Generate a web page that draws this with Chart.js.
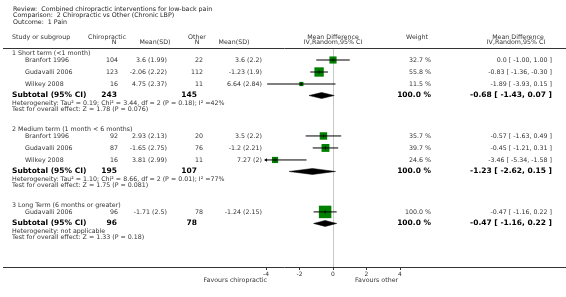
<!DOCTYPE html>
<html>
<head>
<meta charset="utf-8">
<script src="https://cdn.jsdelivr.net/npm/chart.js@4.4.1/dist/chart.umd.min.js"></script>
<style>html,body{margin:0;padding:0;background:#fff}canvas{display:block}</style>
</head>
<body>
<canvas id="c" width="566" height="297"></canvas>
<script>
// ── Data ──────────────────────────────────────────────────────────────────────
const titleLines = ['Review:  Combined chiropractic interventions for low-back pain','Comparison:  2 Chiropractic vs Other (Chronic LBP)','Outcome:  1 Pain'];
const groups     = ['1 Short term (<1 month)','2 Medium term (1 month < 6 months)','3 Long Term (6 months or greater)'];
const studyGroup = [0,0,0,1,1,1,2];
const studyNames = ['Branfort 1996','Gudavalli 2006','Wilkey 2008','Branfort 1996','Gudavalli 2006','Wilkey 2008','Gudavalli 2006'];
const chiroN     = [104,123,16,92,87,16,96];
const chiroMean  = [3.6,-2.06,4.75,2.93,-1.65,3.81,-1.71];
const chiroSD    = [1.99,2.22,2.37,2.13,2.75,2.99,2.5];
const otherN     = [22,112,11,20,76,11,78];
const otherMean  = [3.6,-1.23,6.64,3.5,-1.2,7.27,-1.24];
const otherSD    = [2.2,1.9,2.84,2.2,2.21,2,2.15];
const weights    = [32.7,55.8,11.5,35.7,39.7,24.6,100.0];
const md         = [0.0,-0.83,-1.89,-0.57,-0.45,-3.46,-0.47];
const mdLo       = [-1.00,-1.36,-3.93,-1.63,-1.21,-5.34,-1.16];
const mdHi       = [1.00,-0.30,0.15,0.49,0.31,-1.58,0.22];
const subChiroN  = [243,195,96];
const subOtherN  = [145,107,78];
const subMD      = [-0.68,-1.23,-0.47];
const subLo      = [-1.43,-2.62,-1.16];
const subHi      = [0.07,0.15,0.22];
const hetText    = ['Heterogeneity: Tau\u00b2 = 0.19; Chi\u00b2 = 3.44, df = 2 (P = 0.18); I\u00b2 =42%','Heterogeneity: Tau\u00b2 = 1.10; Chi\u00b2 = 8.66, df = 2 (P = 0.01); I\u00b2 =77%','Heterogeneity: not applicable'];
const testText   = ['Test for overall effect: Z = 1.78 (P = 0.076)','Test for overall effect: Z = 1.75 (P = 0.081)','Test for overall effect: Z = 1.33 (P = 0.18)'];
const xMin = -4, xMax = 4, xStep = 2;

// ── Row layout (in row units, one study row = 1) ─────────────────────────────
const FONT='"DejaVu Sans", Verdana, sans-serif';
const rows={head:[],study:[],sub:[],het:[],test:[]};
let cur=0.45;
groups.forEach((g,gi)=>{
  rows.head[gi]=cur; cur+=0.55;
  let last=cur;
  studyGroup.forEach((sg,i)=>{ if(sg===gi){ rows.study[i]=cur; last=cur; cur+=1; } });
  rows.sub[gi]=last+0.96; rows.het[gi]=rows.sub[gi]+0.68; rows.test[gi]=rows.het[gi]+0.48;
  cur=rows.test[gi]+1.66;
});
const fmt=v=>Number.isInteger(v)?v.toFixed(1):String(v);
const ci=(m,l,h,f)=>(f?f(m):m.toFixed(2))+' [ '+l.toFixed(2)+', '+h.toFixed(2)+' ]';

// ── Datasets ─────────────────────────────────────────────────────────────────
const GREEN='#008000';
const datasets=[];
studyNames.forEach((n,i)=>{
  datasets.push({data:[{x:mdLo[i],y:rows.study[i]},{x:mdHi[i],y:rows.study[i]}],showLine:true,borderColor:'#000',borderWidth:1,pointRadius:0,order:1});
});
datasets.push({data:md.map((v,i)=>({x:v,y:rows.study[i]})),pointStyle:'line',rotation:90,pointRadius:1.6,borderColor:'#000',borderWidth:0.8,order:0});
datasets.push({data:md.map((v,i)=>({x:v,y:rows.study[i]})),pointStyle:'rect',
  pointRadius:weights.map(w=>1.25*Math.sqrt(w)/Math.SQRT2),backgroundColor:GREEN,borderColor:GREEN,borderWidth:0,order:2});
const arrows=mdLo.map((l,i)=>l<xMin?{x:xMin,y:rows.study[i]}:null).filter(Boolean);
datasets.push({data:arrows,pointStyle:'triangle',rotation:270,pointRadius:2,backgroundColor:'#000',borderColor:'#000',borderWidth:0,clip:false,order:0});
subMD.forEach((m,gi)=>{
  const yy=rows.sub[gi], h=0.25;
  datasets.push({data:[{x:subLo[gi],y:yy},{x:m,y:yy-h},{x:subHi[gi],y:yy},{x:m,y:yy+h},{x:subLo[gi],y:yy}],
    showLine:true,fill:'shape',backgroundColor:'#000',borderColor:'#000',borderWidth:0.5,pointRadius:0,tension:0,order:1});
});

// ── Table text plugin ────────────────────────────────────────────────────────
const tablePlugin={
  id:'forestTable',
  afterDraw(chart){
    const {ctx,chartArea:ca,scales:{y}}=chart;
    const T=(s,x,yy,al,font,col)=>{ctx.font=font||('6.3px '+FONT);ctx.fillStyle=col||'#333';ctx.textAlign=al||'left';ctx.textBaseline='middle';ctx.fillText(s,x,yy);};
    const B='bold 7.5px '+FONT;
    ctx.save();
    ctx.strokeStyle='#333'; ctx.lineWidth=1;
    ctx.beginPath();
    ctx.moveTo(3,Math.round(ca.top)+0.5); ctx.lineTo(566,Math.round(ca.top)+0.5);
    ctx.moveTo(3,Math.round(ca.bottom)+0.5); ctx.lineTo(566,Math.round(ca.bottom)+0.5);
    ctx.stroke();
    titleLines.forEach((s,i)=>T(s,13,9+i*6.5,'left',null,'#222'));
    T('Study or subgroup',12,37);
    T('Chiropractic',107,37,'center'); T('N',114,42,'center'); T('Mean(SD)',155,42,'center');
    T('Other',197,37,'center'); T('N',197,42,'center'); T('Mean(SD)',234,42,'center');
    T('Mean Difference',333,37,'center'); T('IV,Random,95% CI',333,42,'center');
    T('Weight',417,37,'center');
    T('Mean Difference',518,37,'center'); T('IV,Random,95% CI',516,42,'center');
    groups.forEach((g,gi)=>{
      T(g,12,y.getPixelForValue(rows.head[gi]));
      const ys=y.getPixelForValue(rows.sub[gi]);
      T('Subtotal (95% CI)',12,ys,'left',B,'#000');
      T(String(subChiroN[gi]),117,ys,'right',B,'#000');
      T(String(subOtherN[gi]),197,ys,'right',B,'#000');
      T('100.0 %',431,ys,'right',B,'#000');
      T(ci(subMD[gi],subLo[gi],subHi[gi]),552,ys,'right',B,'#000');
      T(hetText[gi],12,y.getPixelForValue(rows.het[gi]));
      T(testText[gi],12,y.getPixelForValue(rows.test[gi]));
    });
    studyNames.forEach((n,i)=>{
      const yy=y.getPixelForValue(rows.study[i]);
      T(n,25,yy);
      T(String(chiroN[i]),118,yy,'right');
      T(chiroMean[i]+' ('+chiroSD[i]+')',167,yy,'right');
      T(String(otherN[i]),203,yy,'right');
      T(otherMean[i]+' ('+otherSD[i]+')',262,yy,'right');
      T(weights[i].toFixed(1)+' %',431,yy,'right');
      T(ci(md[i],mdLo[i],mdHi[i],fmt),552,yy,'right');
    });
    T('Favours chiropractic',267,280,'right');
    T('Favours other',355,280,'left');
    ctx.restore();
  }
};

new Chart(document.getElementById('c'),{
  type:'scatter',
  data:{datasets},
  options:{
    responsive:false,animation:false,devicePixelRatio:1,
    layout:{padding:{left:266,right:166,top:48,bottom:0}},
    plugins:{legend:{display:false},tooltip:{enabled:false}},
    scales:{
      x:{type:'linear',min:xMin,max:xMax,
        ticks:{stepSize:xStep,font:{family:FONT,size:6},color:'#333',padding:1},
        grid:{color:c=>c.tick&&c.tick.value===0?'#c8c8c8':'rgba(0,0,0,0)',tickColor:'#333',tickLength:3,lineWidth:1},
        border:{display:false},
        afterFit:s=>{s.height=30;}},
      y:{type:'linear',display:false,reverse:true,min:0,max:18.25}
    }
  },
  plugins:[tablePlugin]
});
</script>
</body>
</html>
